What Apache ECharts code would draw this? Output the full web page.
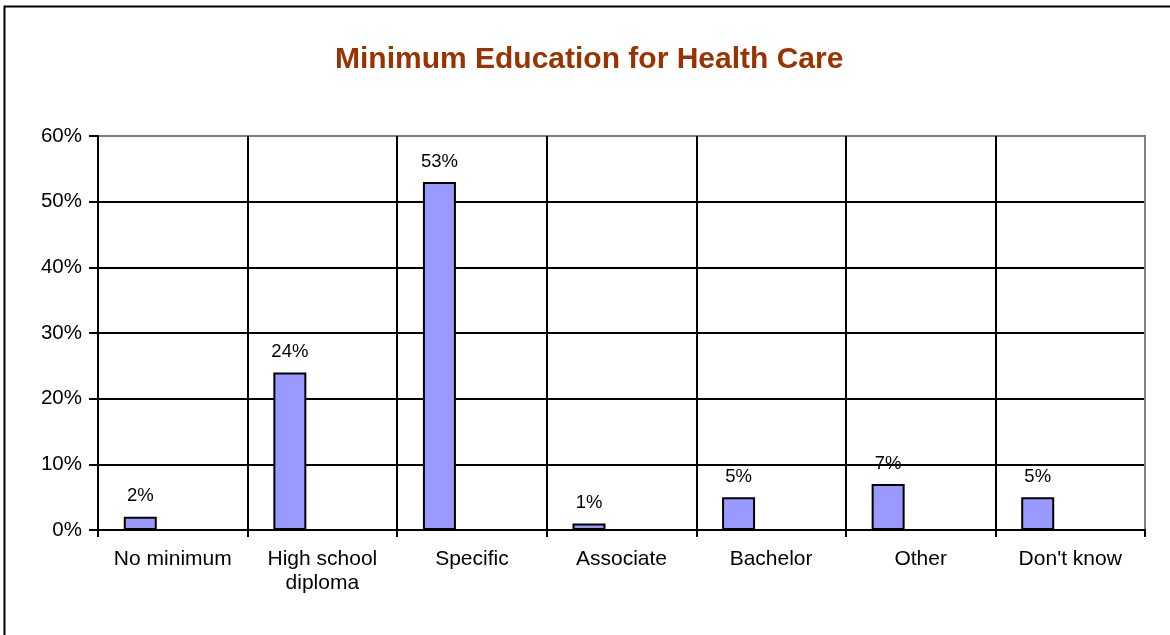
<!DOCTYPE html>
<html>
<head>
<meta charset="utf-8">
<title>Minimum Education for Health Care</title>
<script src="https://cdn.jsdelivr.net/npm/echarts@6/dist/echarts.min.js"></script>
<style>
  html, body { margin: 0; padding: 0; background: #ffffff; }
  #chart { width: 1170px; height: 635px; }
</style>
</head>
<body>
<div id="chart"></div>
<script>
// Survey answers: minimum education required for health care work
const categories = ['No minimum', 'High school\ndiploma', 'Specific', 'Associate', 'Bachelor', 'Other', "Don't know"];
const shares = [2, 24, 53, 1, 5, 7, 5];
const yTicks = [0, 10, 20, 30, 40, 50, 60];

const FONT = '"Liberation Sans", Arial, Helvetica, sans-serif';

const chart = echarts.init(document.getElementById('chart'), null, { renderer: 'canvas' });

// last split line of each axis sits on the grey plot frame
const ySplitColors = yTicks.map((t, i) => (i === yTicks.length - 1 ? '#808080' : '#000000'));
const xSplitColors = categories.map(() => '#000000').concat(['#808080']);

chart.setOption({
  animation: false,
  backgroundColor: '#ffffff',
  title: {
    text: 'Minimum Education for Health Care',
    left: 330,
    top: 40,
    textStyle: { fontFamily: FONT, fontSize: 30, fontWeight: 'bold', color: '#993300' }
  },
  graphic: [{
    type: 'rect',
    shape: { x: 4.5, y: 6.5, width: 1200, height: 700 },
    style: { fill: 'none', stroke: '#000000', lineWidth: 2 },
    silent: true
  }],
  grid: {
    left: 98, right: 25, top: 136, bottom: 105,
    show: true, borderColor: '#808080', borderWidth: 2, backgroundColor: '#ffffff'
  },
  xAxis: {
    type: 'category',
    data: categories,
    boundaryGap: true,
    axisLine: { lineStyle: { color: '#000000', width: 2 } },
    axisTick: { show: true, length: 7, lineStyle: { color: '#000000', width: 2 } },
    axisLabel: { margin: 17, fontFamily: FONT, fontSize: 21, lineHeight: 24, color: '#000000', interval: 0 },
    splitLine: { show: true, interval: 0, lineStyle: { color: xSplitColors, width: 2 } }
  },
  yAxis: {
    type: 'value',
    min: yTicks[0],
    max: yTicks[yTicks.length - 1],
    interval: 10,
    axisLine: { show: true, lineStyle: { color: '#000000', width: 2 } },
    axisTick: { show: true, length: 9, lineStyle: { color: '#000000', width: 2 } },
    axisLabel: { margin: 16, fontFamily: FONT, fontSize: 20.5, color: '#000000', formatter: '{value}%' },
    splitLine: { show: true, lineStyle: { color: ySplitColors, width: 2 } }
  },
  series: [
    {
      name: 'Share of respondents',
      type: 'bar',
      data: shares,
      barWidth: 33,
      barGap: '97%',
      itemStyle: { color: '#9999ff', borderColor: '#000000', borderWidth: 2 },
      label: {
        show: true,
        position: 'top',
        distance: 11,
        formatter: '{c}%',
        fontFamily: FONT,
        fontSize: 18.5,
        color: '#000000'
      },
      z: 3
    },
    {
      // second column slot of each category, left empty
      name: 'Comparison',
      type: 'bar',
      data: [],
      barWidth: 33
    }
  ]
});
</script>
</body>
</html>
